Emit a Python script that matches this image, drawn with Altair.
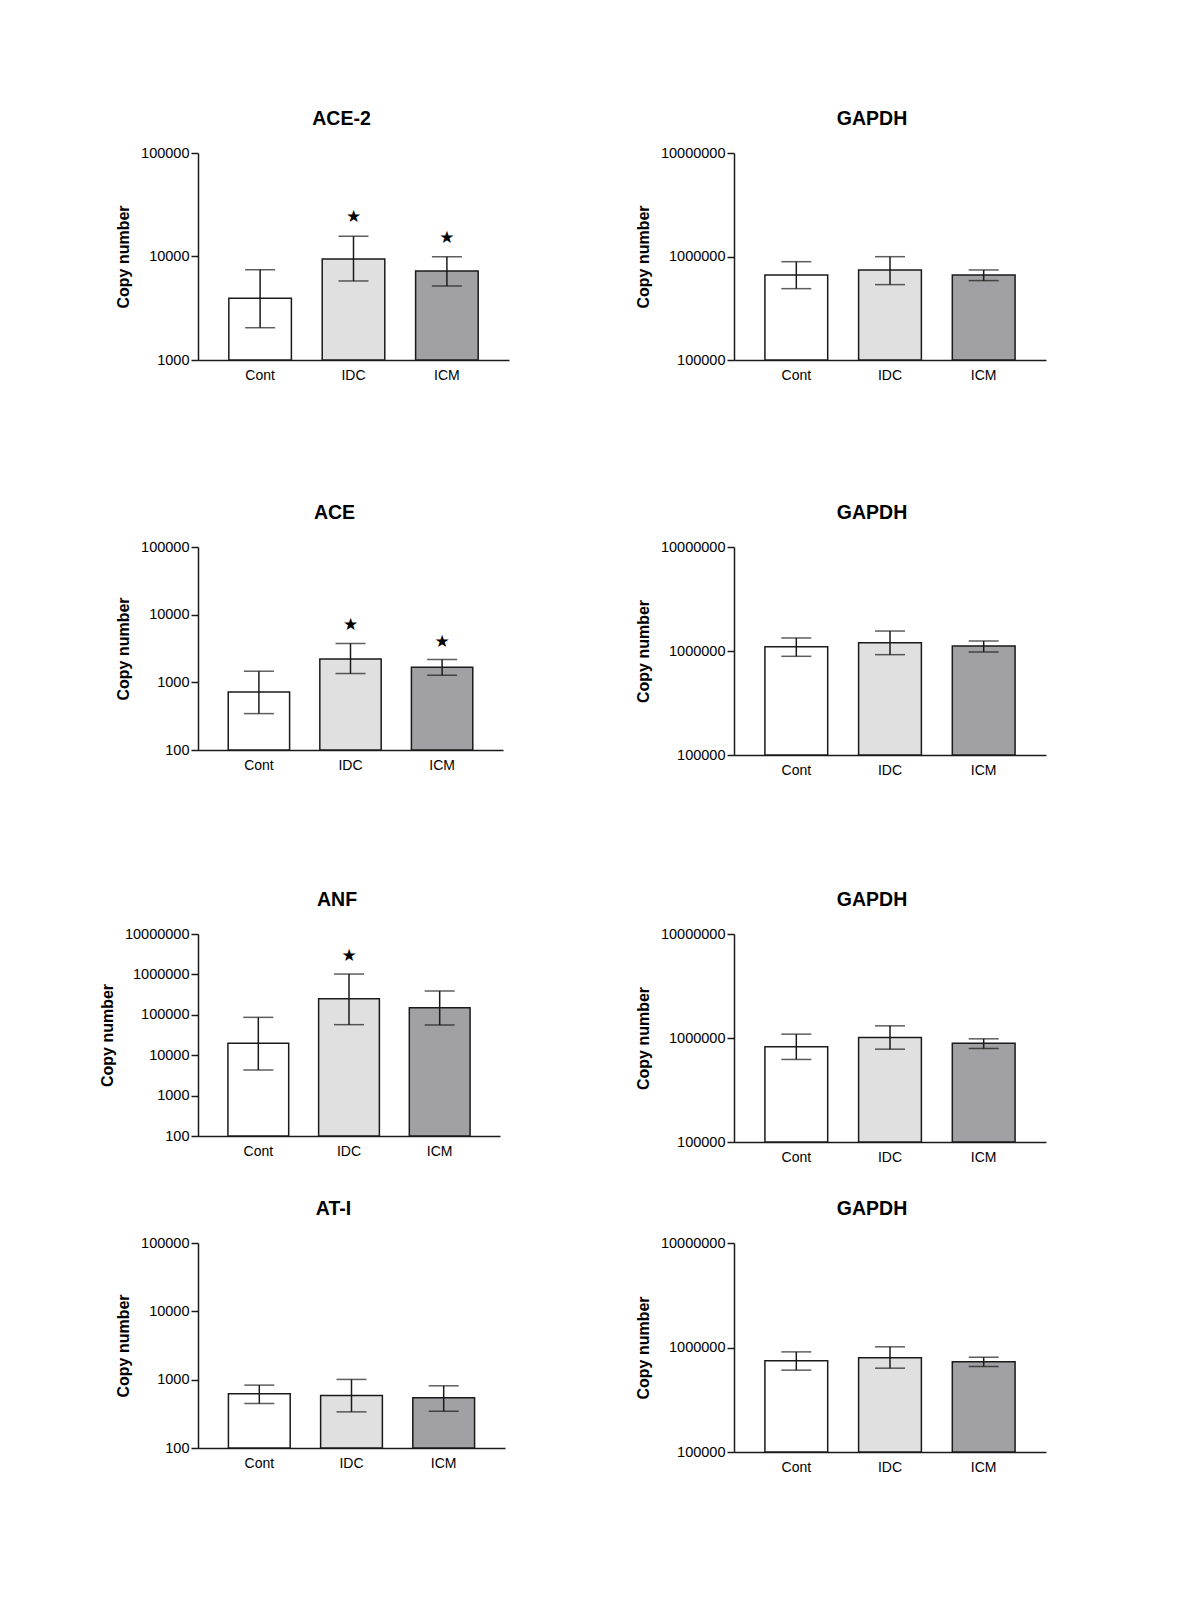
import altair as alt
import pandas as pd

groups = ["Cont", "IDC", "ICM"]
fills = ["#ffffff", "#e0e0e0", "#a1a0a4"]

titles = ["ACE-2", "GAPDH", "ACE", "GAPDH", "ANF", "GAPDH", "AT-I", "GAPDH"]
ticks = [
    [1000, 10000, 100000],
    [100000, 1000000, 10000000],
    [100, 1000, 10000, 100000],
    [100000, 1000000, 10000000],
    [100, 1000, 10000, 100000, 1000000, 10000000],
    [100000, 1000000, 10000000],
    [100, 1000, 10000, 100000],
    [100000, 1000000, 10000000],
]

ace2_mean = [3950, 9450, 7250]
ace2_hi = [7450, 15700, 9950]
ace2_lo = [2050, 5800, 5200]
ace2_star = [None, 23900, 15000]

gapdh1_mean = [662000, 741000, 662000]
gapdh1_hi = [891000, 996000, 741000]
gapdh1_lo = [489000, 535000, 585000]

ace_mean = [720, 2220, 1670]
ace_hi = [1460, 3750, 2170]
ace_lo = [345, 1350, 1275]
ace_star = [None, 7100, 3950]

gapdh2_mean = [1100000, 1200000, 1117000]
gapdh2_hi = [1334000, 1556000, 1248000]
gapdh2_lo = [889000, 922000, 978000]

anf_mean = [19700, 250000, 150000]
anf_hi = [86500, 1020000, 388000]
anf_lo = [4300, 57000, 56000]
anf_star = [None, 2850000, None]

gapdh3_mean = [822000, 1011000, 892000]
gapdh3_hi = [1089000, 1309000, 982000]
gapdh3_lo = [622000, 781000, 793000]

at1_mean = [621, 586, 542]
at1_hi = [832, 1008, 813]
at1_lo = [448, 338, 345]

gapdh4_mean = [745000, 796000, 729000]
gapdh4_hi = [908000, 1015000, 807000]
gapdh4_lo = [607000, 634000, 658000]

no_star = [None, None, None]

means = [ace2_mean, gapdh1_mean, ace_mean, gapdh2_mean, anf_mean, gapdh3_mean, at1_mean, gapdh4_mean]
his = [ace2_hi, gapdh1_hi, ace_hi, gapdh2_hi, anf_hi, gapdh3_hi, at1_hi, gapdh4_hi]
los = [ace2_lo, gapdh1_lo, ace_lo, gapdh2_lo, anf_lo, gapdh3_lo, at1_lo, gapdh4_lo]
stars = [ace2_star, no_star, ace_star, no_star, anf_star, no_star, no_star, no_star]

widths = [311, 312, 305, 312, 302, 312, 307, 312]
heights = [207, 207, 203, 208, 202, 208, 205, 209]
title_dx = [-12, -18, -16, -18, -12, -18, -18, -18]
gap_pad = [76, 76, 68, 68]

INK = "#1a1a1a"


def panel(i):
    df = pd.DataFrame({
        "group": groups,
        "mean": means[i],
        "hi": his[i],
        "lo": los[i],
        "base": [ticks[i][0]] * 3,
        "star": stars[i],
    })
    yscale = alt.Scale(type="log", domain=[ticks[i][0], ticks[i][-1]], nice=False)
    yaxis = alt.Axis(values=ticks[i], format="d", title="Copy number")
    if i < 4:
        xaxis = alt.Axis(title=".", titleOpacity=0, titleFontSize=10, titlePadding=gap_pad[i])
    else:
        xaxis = alt.Axis(title=None)
    xenc = alt.X("group:N", sort=groups,
                 scale=alt.Scale(paddingInner=0.33, paddingOuter=0.33),
                 axis=xaxis)
    base = alt.Chart(df)
    bars = base.mark_bar(stroke=INK, strokeWidth=1.5).encode(
        x=xenc,
        y=alt.Y("mean:Q", scale=yscale, axis=yaxis),
        y2="base:Q",
        fill=alt.Fill("group:N", scale=alt.Scale(domain=groups, range=fills), legend=None),
    )
    rule = base.mark_rule(color=INK, strokeWidth=1.5).encode(
        x=xenc, y=alt.Y("lo:Q", scale=yscale, axis=yaxis), y2="hi:Q"
    )
    cap_hi = base.mark_tick(orient="horizontal", size=30, thickness=1.5, color=INK).encode(
        x=xenc, y=alt.Y("hi:Q", scale=yscale, axis=yaxis)
    )
    cap_lo = base.mark_tick(orient="horizontal", size=30, thickness=1.5, color=INK).encode(
        x=xenc, y=alt.Y("lo:Q", scale=yscale, axis=yaxis)
    )
    star = base.transform_filter("isValid(datum.star)").mark_text(
        text="★", font="DejaVu Sans", fontSize=17, color="#000000", baseline="middle"
    ).encode(x=xenc, y=alt.Y("star:Q", scale=yscale, axis=yaxis))
    return alt.layer(bars, rule, cap_hi, cap_lo, star).properties(
        width=widths[i],
        height=heights[i],
        title=alt.TitleParams(titles[i], dx=title_dx[i]),
    )


chart = alt.concat(
    *[panel(i) for i in range(8)],
    columns=2,
    spacing={"row": 34, "column": 126},
    align="each",
).properties(
    padding={"left": 91, "top": 100, "right": 5, "bottom": 5},
    background="#ffffff",
).configure(
    font="Liberation Sans",
).configure_view(
    stroke=None,
).configure_title(
    font="Liberation Sans",
    fontSize=19.5,
    fontWeight="bold",
    color="#000000",
    anchor="middle",
    offset=16,
).configure_axisY(
    domainColor=INK, domainWidth=1.5,
    tickColor=INK, tickWidth=1.5, tickSize=7,
    labelFont="Liberation Sans", labelFontSize=14.5, labelColor="#000000", labelPadding=2,
    titleFont="Liberation Sans", titleFontSize=16, titleFontWeight="bold", titleColor="#000000",
    titlePadding=9, grid=False,
).configure_axisX(
    domainColor=INK, domainWidth=1.5, ticks=False, labelAngle=0,
    labelFont="Liberation Sans", labelFontSize=14, labelColor="#000000", labelPadding=8,
    grid=False,
)

chart.save("out.html", embed_options={"renderer": "svg", "actions": False})
